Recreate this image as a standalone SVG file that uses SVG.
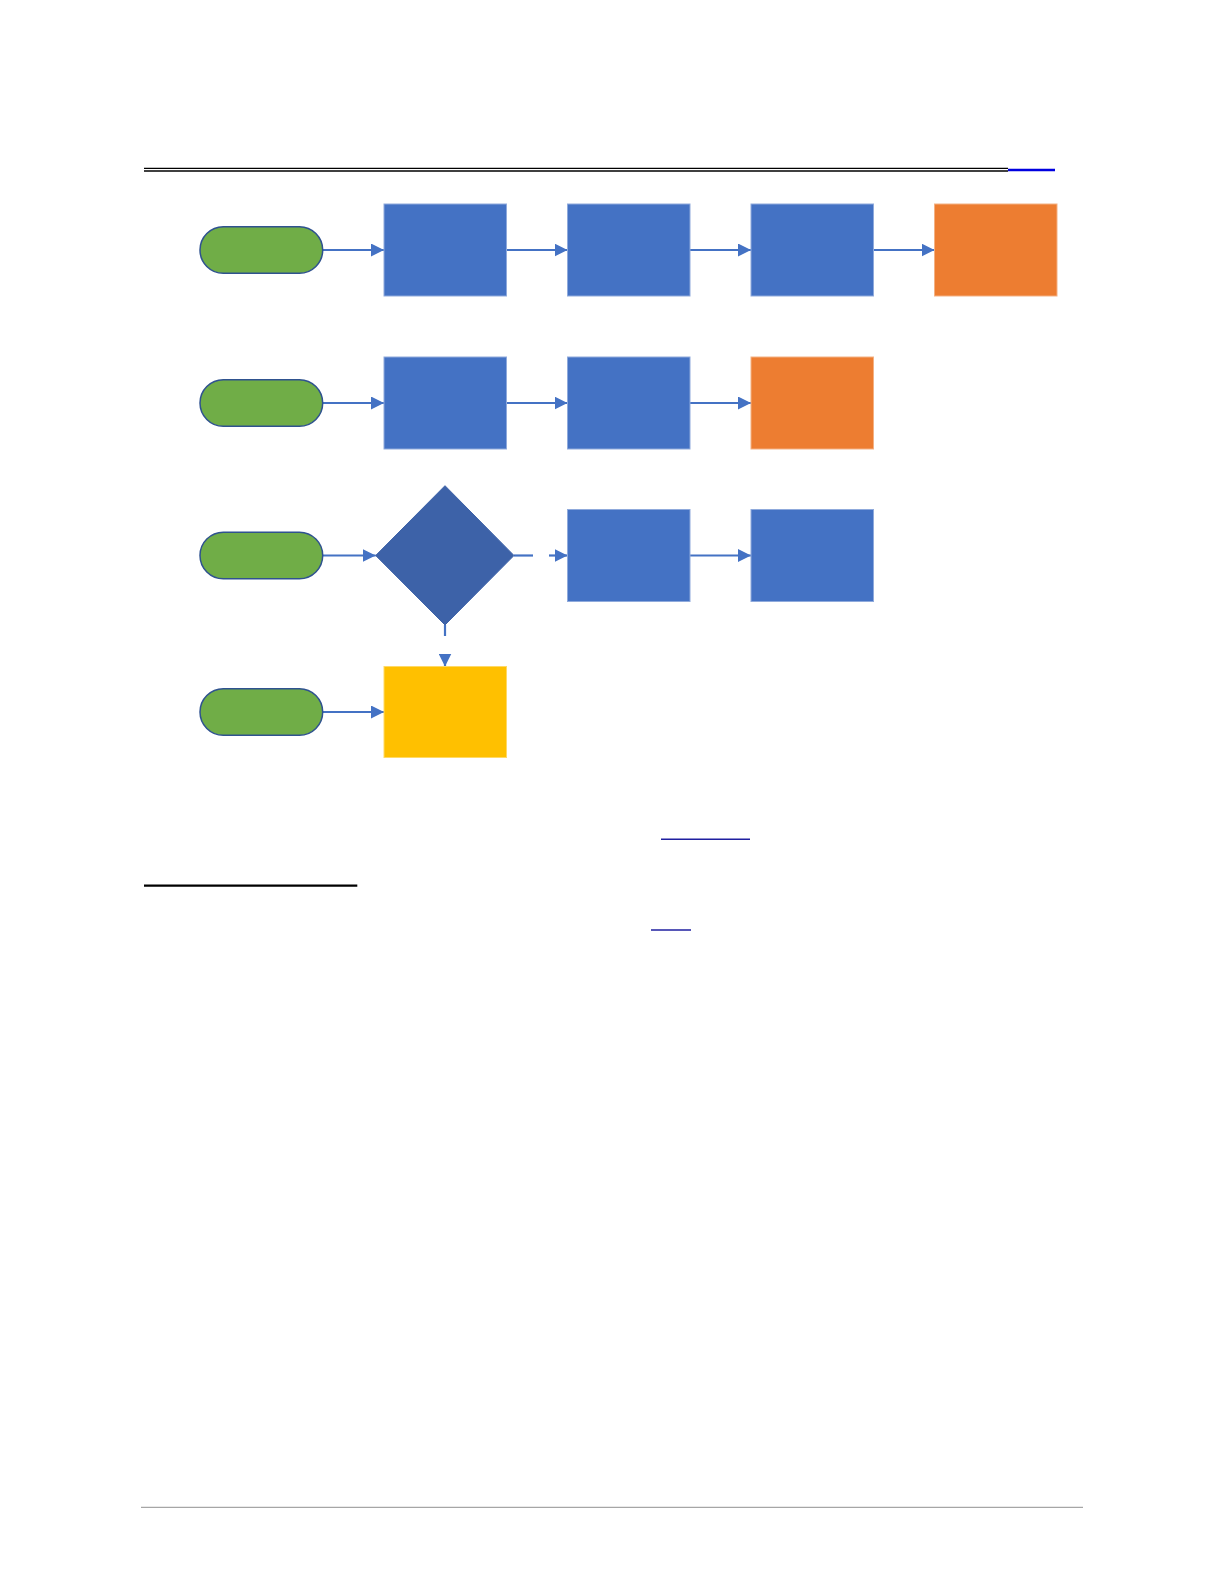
<svg xmlns="http://www.w3.org/2000/svg" width="1224" height="1584" viewBox="0 0 1224 1584">
<style>
.pill{fill:#70AD47;stroke:#2F528F;stroke-width:1.5}
.proc{fill:#4472C4;stroke:#8FAADC;stroke-width:1}
.end{fill:#ED7D31;stroke:#F4B183;stroke-width:1}
.alt{fill:#FFC000;stroke:#FFD966;stroke-width:1}
.dec{fill:#3D62A8;stroke:#3D62A8;stroke-width:1}
.con{fill:none;stroke:#4472C4;stroke-width:2.2}
.rule{stroke:#000;stroke-width:1.3}
.link{stroke:#1F1FA0;stroke-width:1.6}
</style>
<defs>
<marker id="ah" markerUnits="userSpaceOnUse" markerWidth="13" markerHeight="13" viewBox="0 0 12 12" refX="12" refY="6" orient="auto">
<path d="M0,0 L12,6 L0,12 Z" fill="#4472C4"/>
</marker>
</defs>
<rect width="1224" height="1584" fill="#fff"/>
<g id="header">
<line class="rule" x1="144" y1="168.3" x2="1008" y2="168.3"/>
<line class="rule" x1="144" y1="171" x2="1008" y2="171"/>
<line x1="1008" y1="170" x2="1055" y2="170" stroke="#0000E0" stroke-width="2.7"/>
</g>
<g id="connectors">
<path class="con" d="M322.7,250 L384,250" marker-end="url(#ah)"/>
<path class="con" d="M506.5,250 L567.5,250" marker-end="url(#ah)"/>
<path class="con" d="M690,250 L751,250" marker-end="url(#ah)"/>
<path class="con" d="M873.5,250 L934.5,250" marker-end="url(#ah)"/>
<path class="con" d="M322.7,403 L384,403" marker-end="url(#ah)"/>
<path class="con" d="M506.5,403 L567.5,403" marker-end="url(#ah)"/>
<path class="con" d="M690,403 L751,403" marker-end="url(#ah)"/>
<path class="con" d="M322.7,555.5 L375.7,555.5" marker-end="url(#ah)"/>
<path class="con" d="M514,555.5 L533,555.5"/>
<path class="con" d="M549,555.5 L567.5,555.5" marker-end="url(#ah)"/>
<path class="con" d="M690,555.5 L751,555.5" marker-end="url(#ah)"/>
<path class="con" d="M445,625 L445,636"/>
<path class="con" d="M445,655 L445,666.5" marker-end="url(#ah)"/>
<path class="con" d="M322.7,712 L384,712" marker-end="url(#ah)"/>
</g>
<g id="start1"><rect class="pill" x="200" y="226.7" width="122.7" height="46.6" rx="23.3"/></g>
<g id="r1c1"><rect class="proc" x="384" y="204" width="122.5" height="92"/></g>
<g id="r1c2"><rect class="proc" x="567.5" y="204" width="122.5" height="92"/></g>
<g id="r1c3"><rect class="proc" x="751" y="204" width="122.5" height="92"/></g>
<g id="r1c4"><rect class="end" x="934.5" y="204" width="122.5" height="92"/></g>
<g id="start2"><rect class="pill" x="200" y="379.7" width="122.7" height="46.6" rx="23.3"/></g>
<g id="r2c1"><rect class="proc" x="384" y="357" width="122.5" height="92"/></g>
<g id="r2c2"><rect class="proc" x="567.5" y="357" width="122.5" height="92"/></g>
<g id="r2c3"><rect class="end" x="751" y="357" width="122.5" height="92"/></g>
<g id="start3"><rect class="pill" x="200" y="532.2" width="122.7" height="46.6" rx="23.3"/></g>
<g id="decision"><polygon class="dec" points="445,485.7 514,555.5 445,625 375.7,555.5"/></g>
<g id="r3c2"><rect class="proc" x="567.5" y="509.5" width="122.5" height="92"/></g>
<g id="r3c3"><rect class="proc" x="751" y="509.5" width="122.5" height="92"/></g>
<g id="start4"><rect class="pill" x="200" y="688.7" width="122.7" height="46.6" rx="23.3"/></g>
<g id="r4c1"><rect class="alt" x="384" y="666.5" width="122.5" height="91"/></g>
<g id="footer">
<line class="link" x1="661" y1="839.3" x2="750" y2="839.3"/>
<line x1="144" y1="885.7" x2="357.3" y2="885.7" stroke="#000" stroke-width="2.2"/>
<line class="link" x1="651" y1="930" x2="691" y2="930"/>
<line x1="141" y1="1507.3" x2="1083" y2="1507.3" stroke="#A6A6A6" stroke-width="1.2"/>
</g>
</svg>
